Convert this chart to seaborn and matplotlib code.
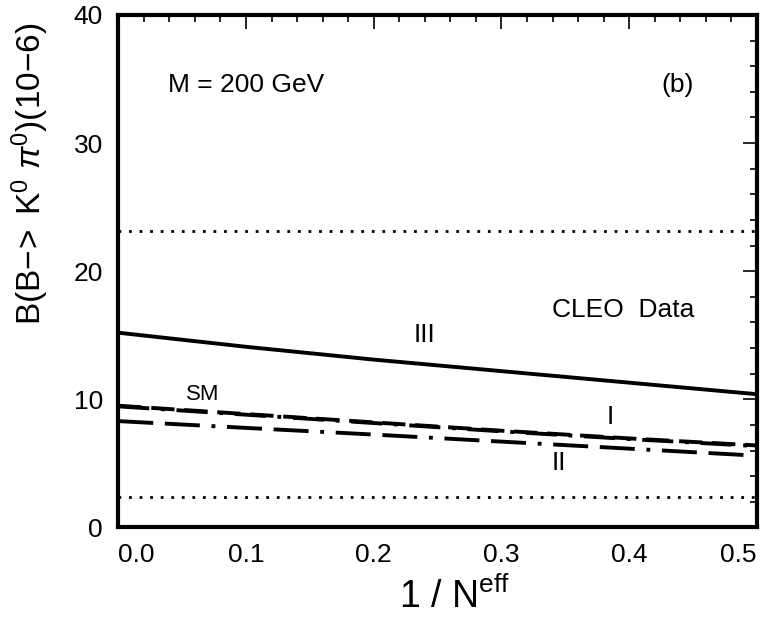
import numpy as np
import pandas as pd
import matplotlib
matplotlib.use("Agg")
import matplotlib.pyplot as plt
from matplotlib.ticker import MultipleLocator
import seaborn as sns

# values
x_vals = [0.0, 0.1, 0.2, 0.3, 0.4, 0.5]
model_iii = [15.2, 14.1, 13.1, 12.2, 11.3, 10.4]
model_sm = [9.5, 8.85, 8.2, 7.55, 6.95, 6.4]
model_i = [9.45, 8.8, 8.15, 7.5, 6.9, 6.35]
model_ii = [8.3, 7.77, 7.25, 6.7, 6.15, 5.6]
cleo_upper = 23.1
cleo_lower = 2.4

sns.set_theme(style="white")
plt.rcParams['font.family'] = ['Liberation Sans', 'DejaVu Sans']
plt.rcParams['mathtext.fontset'] = 'custom'
plt.rcParams['mathtext.rm'] = 'Liberation Sans'
plt.rcParams['mathtext.it'] = 'Liberation Sans:italic'
plt.rcParams['text.color'] = 'black'
plt.rcParams['axes.labelcolor'] = 'black'
plt.rcParams['xtick.color'] = 'black'
plt.rcParams['ytick.color'] = 'black'

df = pd.DataFrame({"x": x_vals, "III": model_iii, "SM": model_sm,
                   "I": model_i, "II": model_ii})

fig = plt.figure(figsize=(7.63, 6.22), dpi=100)
ax = fig.add_axes([0.155, 0.152, 0.837, 0.824])

sns.lineplot(data=df, x="x", y="III", ax=ax, color="black", lw=2.8)
sns.lineplot(data=df, x="x", y="SM", ax=ax, color="black", lw=2.8,
             dashes=False, linestyle=(0, (6, 2.5)))
sns.lineplot(data=df, x="x", y="I", ax=ax, color="black", lw=2.8,
             linestyle=(0, (8, 3, 1, 3)))
sns.lineplot(data=df, x="x", y="II", ax=ax, color="black", lw=2.8,
             linestyle=(0, (9, 3, 9, 3, 1, 3)))
ax.axhline(cleo_upper, color="black", lw=2, linestyle=(0, (1, 2.8)))
ax.axhline(cleo_lower, color="black", lw=2, linestyle=(0, (1, 2.8)))

ax.set_xlim(0.0, 0.5)
ax.set_ylim(0, 40)
ax.xaxis.set_minor_locator(MultipleLocator(0.02))
ax.yaxis.set_minor_locator(MultipleLocator(2))
ax.set_xticks(x_vals)
ax.set_xticklabels([f"{v:.1f}" for v in x_vals])
ax.set_yticks([0, 10, 20, 30, 40])
ax.set_yticklabels(["0", "10", "20", "30", "40"])
ax.tick_params(which="both", direction="in", top=True, right=True,
               labelsize=19, color="black", labelcolor="black", pad=11)
ax.tick_params(which="major", length=10, width=1.2)
ax.tick_params(which="minor", length=5, width=1.2)
labels = ax.get_xticklabels()
labels[0].set_ha("left")
labels[-1].set_ha("right")
for sp in ax.spines.values():
    sp.set_linewidth(3)
    sp.set_color("black")

ax.set_xlabel(r"1 / N$^{\mathrm{eff}}$", fontsize=27)
ax.xaxis.set_label_coords(0.527, -0.098)
ax.set_ylabel(r"B(B$-\!>$ K$^0$ $\pi^0$)(10$-$6)", fontsize=24)
ax.yaxis.set_label_coords(-0.105, 0.69)

txt = dict(color="black", fontsize=19)
ax.text(0.1, 34.5, "M = 200 GeV", ha="center", va="center", **txt)
ax.text(0.438, 34.5, "(b)", ha="center", va="center", **txt)
ax.text(0.395, 17.0, "CLEO  Data", ha="center", va="center", **txt)
ax.text(0.24, 15.0, "III", ha="center", va="center", **txt)
ax.text(0.066, 10.4, "SM", ha="center", va="center", fontsize=16, color="black")
ax.text(0.385, 8.6, "I", ha="center", va="center", **txt)
ax.text(0.345, 5.0, "II", ha="center", va="center", **txt)

fig.savefig("out.png", dpi=100)
